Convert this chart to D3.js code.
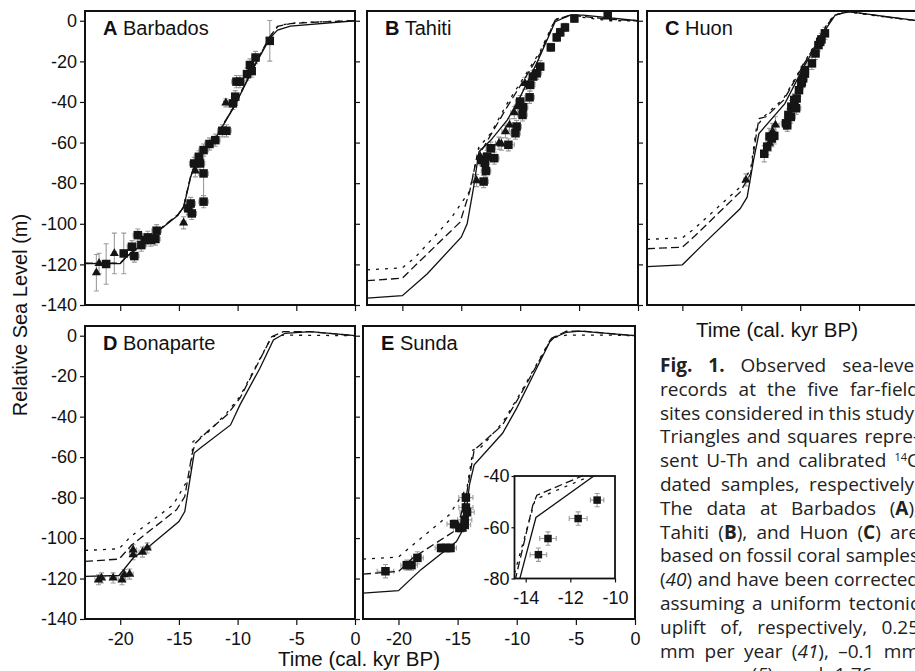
<!DOCTYPE html>
<html>
<head>
<meta charset="utf-8">
<script src="https://cdn.jsdelivr.net/npm/d3@7"></script>
<style>
  body { margin: 0; background: #fff; overflow: hidden; }
  svg { display: block; }
</style>
</head>
<body>
<svg id="chart" width="915" height="671"></svg>
<script>
// ---- data (time in kyr BP, level in m) ----
const timeTicks = [-20, -15, -10, -5, 0];
const levelTicks = [0, -20, -40, -60, -80, -100, -120, -140];
const insetTimeTicks = [-14, -12, -10];
const insetLevelTicks = [-40, -60, -80];

// model curves: [time, level]
const aSolid = [[-23,-119.6],[-20,-119.6],[-19.5,-116.5],[-16.7,-103.3],[-15.1,-95.9],[-14.6,-91.8],[-14.0,-77],[-13.4,-67.1],[-12.0,-58.9],[-10.3,-42.4],[-8.6,-22.7],[-7.26,-8.7],[-6.6,-4.6],[-5.5,-2.6],[0,0]];
const aDashed = [[-23,-119.4],[-20,-119.4],[-19.5,-116.3],[-16.7,-103],[-15.1,-95.6],[-14.6,-91.5],[-14.0,-76.6],[-13.4,-66.8],[-12.0,-58.6],[-10.3,-42],[-8.6,-22.3],[-7.3,-8.2],[-6.6,-2.8],[-5.5,-1.4],[-3,-0.6],[0,0]];
const aDotted = [[-23,-119.5],[-20,-119.5],[-19.5,-116.4],[-16.7,-103.1],[-15.1,-95.7],[-14.6,-91.6],[-14.0,-76.8],[-13.4,-66.9],[-12.0,-58.7],[-10.3,-42.2],[-8.6,-22.5],[-7.3,-8.4],[-6.5,-2.2],[-5,-1],[-2,-0.3],[0,0]];

const bSolid = [[-23,-136.6],[-20,-135.4],[-17.9,-124.7],[-15.0,-106.6],[-14.5,-100],[-13.95,-81.9],[-13.5,-64.6],[-12.5,-58.9],[-11.1,-49],[-10,-37.5],[-8.6,-21],[-7.03,-0.5],[-5.76,2.8],[-4.66,2.8],[0,0]];
const bDashed = [[-23,-128],[-20,-126.8],[-18.75,-119.7],[-15.1,-99.2],[-14.3,-84.4],[-13.67,-67.1],[-13.1,-62.2],[-11.1,-42.4],[-9.7,-29.3],[-8.3,-16],[-7.03,0.3],[-5.76,2.8],[-2.4,0.7],[0,0]];
const bDotted = [[-23,-122.7],[-20,-121.7],[-18.9,-116.5],[-15.9,-97.5],[-14.3,-84],[-13.5,-62.2],[-12.5,-55.5],[-11.1,-40.7],[-9.7,-28],[-8.3,-15],[-7.03,0.7],[-5.76,2.5],[-2.4,0],[0,0]];

const cSolid = [[-23,-121.1],[-20,-120.2],[-18.2,-109.9],[-15.1,-92.6],[-14.5,-86.9],[-13.96,-68.8],[-13.5,-55.6],[-11.3,-40.8],[-9.7,-22.7],[-7.7,-3],[-7.03,2.8],[-5.9,4.5],[0,0]];
const cDashed = [[-23,-112.3],[-20,-111.5],[-18.9,-105.8],[-15.1,-84.4],[-14.2,-75.3],[-13.8,-58.9],[-13.5,-48.2],[-12.9,-47.3],[-11.4,-39.1],[-9.7,-21.5],[-7.7,-2],[-7.1,2.8],[-5.9,4.5],[-2.4,1.7],[0,0]];
const cDotted = [[-23,-107.7],[-20,-106.9],[-19,-102.5],[-15.1,-81.9],[-14.2,-73],[-13.7,-52.3],[-13.1,-47.3],[-11.4,-38.3],[-9.7,-21],[-7.7,-1.5],[-7.1,2.8],[-5.9,4.3],[-2.4,1.5],[0,0]];

const dSolid = [[-23,-118.9],[-20.1,-118.5],[-18.9,-109.9],[-17.7,-104.9],[-15,-91.8],[-14.5,-86.9],[-13.7,-58],[-13.2,-55.6],[-10.6,-44.1],[-9.8,-34.2],[-8.1,-16.1],[-6.95,-2.1],[-5.96,1.2],[-3.8,2],[0,0]];
const dDashed = [[-23,-111.5],[-20.1,-110.4],[-19,-103.3],[-15.2,-86],[-14.5,-79.5],[-13.9,-58.9],[-13.6,-53.1],[-12.5,-47],[-10.9,-39.1],[-9.8,-30.9],[-7.1,-0.5],[-6.1,2],[-3.8,2],[0,0]];
const dDotted = [[-23,-106.1],[-20.1,-105.3],[-19.1,-99.2],[-15.5,-83.6],[-14,-68.8],[-13.8,-52.3],[-12.6,-48.2],[-10.9,-38],[-9.8,-30],[-7.1,-0.5],[-6.1,0.3],[0,0]];

const eSolid = [[-23,-127.2],[-20,-126],[-18.1,-115.6],[-15.1,-101.7],[-14.7,-97.5],[-14.3,-88.5],[-14.0,-73.7],[-13.6,-63.8],[-11.2,-48.2],[-10,-35.8],[-7.2,-3],[-6.86,-1],[-5.8,1.7],[-4.66,2.3],[0,0]];
const eDashed = [[-23,-117.8],[-20,-116.5],[-18.8,-109.9],[-15.1,-95.9],[-14.3,-80.3],[-13.6,-56.5],[-13.1,-54],[-11.2,-44.1],[-9.7,-29.3],[-7.06,-1.3],[-5.8,2.2],[-4.5,2.3],[0,0]];
const eDotted = [[-23,-110.4],[-20,-109.4],[-19.1,-104.9],[-15.7,-88.5],[-14.2,-75],[-13.7,-56.5],[-13,-55],[-11.2,-43],[-9.7,-28.5],[-7.06,-1],[-5.8,0.3],[-2,0.3],[0,0]];

// observations: [time, level, time error, level error]
const aTriangles = [[-22.03,-124.1,0.15,9],[-21.8,-119.5,0.15,5],[-20.5,-114.6,0.15,10],[-14.6,-99.5,0.2,3],[-13.6,-73.9,0.2,3],[-11.0,-40.4,0.2,2]];
const aSquares = [[-21.2,-119.8,0.3,10],[-19.7,-114.6,0.3,10],[-19.0,-111.3,0.4,3],[-18.8,-115.9,0.4,3],[-18.5,-105.6,0.4,3],[-18.2,-110.5,0.4,3],[-17.9,-108,0.4,3],[-17.65,-106.7,0.4,3],[-17.4,-108,0.4,3],[-17.0,-107.5,0.4,3],[-16.9,-103.4,0.4,3],[-14.2,-92.4,0.4,3],[-14.0,-90,0.4,3],[-13.9,-94.9,0.4,3],[-12.9,-89.1,0.4,3],[-13.7,-70.3,0.4,3],[-13.3,-67,0.4,3],[-13.2,-70.3,0.4,3],[-12.9,-63.7,0.4,3],[-12.9,-75.2,0.4,11],[-12.4,-60.7,0.4,3],[-11.9,-58.8,0.4,3],[-11.3,-54.2,0.4,3],[-10.95,-54.2,0.4,3],[-10.4,-40.7,0.4,3],[-10.2,-37.4,0.3,3],[-10.1,-30,0.4,3],[-9.8,-30,0.4,3],[-9.2,-26.3,0.3,3],[-8.95,-21.8,0.3,3],[-8.8,-24.8,0.3,3],[-8.47,-18.1,0.3,3],[-7.26,-9.9,0.1,10]];

const bTriangles = [[-13.7,-78.7,0.3,3],[-13.4,-66.9,0.3,4],[-11.8,-60.3,0.3,3],[-11.6,-60.7,0.3,3],[-11.25,-54.6,0.3,3],[-10.9,-51.3,0.3,3],[-10.5,-45.2,0.3,3],[-10.2,-42.3,0.3,3],[-9.6,-30.8,0.3,3]];
const bSquares = [[-13.1,-79.2,0.4,3],[-13.25,-68.5,0.4,3],[-13.0,-70,0.4,3],[-12.9,-74,0.4,3],[-12.8,-66.9,0.4,3],[-12.5,-62.8,0.4,3],[-12.2,-67.7,0.4,3],[-11.0,-61.1,0.5,3],[-10.4,-55.4,0.4,3],[-10.3,-52.1,0.4,3],[-9.8,-46.4,0.4,3],[-9.75,-42.6,0.4,3],[-10.0,-39.8,0.4,3],[-9.2,-37.7,0.4,3],[-9.15,-31.6,0.4,3],[-8.9,-27.5,0.4,3],[-8.6,-25.9,0.4,3],[-8.3,-22.6,0.3,3],[-7.4,-13.1,0.2,2],[-6.9,-8.2,0.2,2],[-6.6,-5.7,0.2,2],[-6.2,-3.3,0.2,2],[-5.4,1.1,0.2,2],[-2.57,2.8,0.2,2]];

const cTriangles = [[-14.6,-78.4,0.2,3],[-12.6,-60.3,0.3,4],[-12.35,-54.6,0.3,4],[-12.1,-51.3,0.3,4]];
const cSquares = [[-13.05,-65.5,0.3,4],[-12.8,-62,0.3,4],[-12.6,-57,0.3,4],[-12.4,-58,0.3,4],[-12.2,-56.7,0.3,4],[-11.2,-50.5,0.4,3],[-11.1,-51.5,0.3,3],[-10.8,-47.4,0.4,3],[-11.0,-46.4,0.3,3],[-10.75,-42.3,0.3,3],[-10.5,-42.4,0.3,3],[-10.5,-39,0.3,3],[-10.35,-43.1,0.4,3],[-10.3,-38.3,0.3,3],[-10.1,-34.2,0.3,3],[-9.9,-30.8,0.3,3],[-9.86,-30.1,0.3,3],[-9.75,-28.4,0.3,3],[-9.6,-26,0.3,3],[-9.6,-24.3,0.3,3],[-9.0,-21,0.3,3],[-8.7,-16.1,0.3,3],[-8.45,-12,0.3,3],[-8.3,-10.4,0.3,3],[-8.2,-9.2,0.3,3],[-7.9,-6.2,0.3,3]];

const dTriangles = [[-21.85,-120.6,0.3,2.5],[-21.6,-119.7,0.3,2.5],[-20.6,-119.7,0.3,2.5],[-19.85,-120.6,0.3,2.5],[-19.65,-118.1,0.3,2.5],[-19.2,-117.8,0.3,2.5],[-18.9,-105.8,0.3,2.5],[-18.9,-108.2,0.3,2.5],[-18.1,-106.9,0.3,2.5],[-17.7,-104.9,0.3,2.5]];
const dSquares = [];

const eTriangles = [];
const eSquares = [[-21.1,-116.4,0.7,3.3],[-19.3,-113.4,0.5,2.5],[-18.9,-113.4,0.5,2.5],[-18.4,-109.8,0.5,3],[-16.4,-104.9,0.5,2],[-16.0,-104.9,0.5,2],[-15.6,-104.9,0.5,2],[-15.3,-93.1,0.6,2],[-14.85,-95,0.5,2],[-14.6,-94.8,0.5,2],[-14.4,-93.4,0.5,3],[-14.4,-91,0.6,2],[-14.3,-80,0.6,2],[-14.3,-84.9,0.6,2],[-14.2,-87.2,0.6,2]];

// Sunda inset
const insetSolid = [[-14.5,-87.9],[-13.54,-56.2],[-10.5,-37.2]];
const insetDashed = [[-14.6,-85.5],[-13.68,-51.4],[-13.5,-47.5],[-11.55,-40.3],[-11,-38.3]];
const insetDotted = [[-14.5,-78],[-13.6,-50],[-13.4,-48.5],[-11.1,-40],[-10.8,-39]];
const insetSquares = [[-13.43,-70.7,0.37,2.6],[-13.0,-64.4,0.37,2.6],[-11.65,-56.6,0.4,2.6],[-10.8,-49.4,0.3,2.6]];

const captionLines = [
  "#Fig.# #1.# Observed sea-level",
  "records at the five far-field",
  "sites considered in this study.",
  "Triangles and squares repre-",
  "sent U-Th and calibrated ^14^C",
  "dated samples, respectively.",
  "The data at Barbados (#A#),",
  "Tahiti (#B#), and Huon (#C#) are",
  "based on fossil coral samples",
  "(*40*) and have been corrected",
  "assuming a uniform tectonic",
  "uplift of, respectively, 0.25",
  "mm per year (*41*), \u20130.1 mm",
  "per year (*5*), and 1.76 mm"
];

// ---- layout ----
const timeDomain = [-23, 0];
const levelDomain = [-140, 4.8];
const panels = [
  { id: "A", name: "Barbados", box: [85, 355, 11, 305], solid: aSolid, dashed: aDashed, dotted: aDotted, tri: aTriangles, sq: aSquares },
  { id: "B", name: "Tahiti", box: [367, 638, 11, 305], solid: bSolid, dashed: bDashed, dotted: bDotted, tri: bTriangles, sq: bSquares },
  { id: "C", name: "Huon", box: [647, 918, 11, 305], solid: cSolid, dashed: cDashed, dotted: cDotted, tri: cTriangles, sq: cSquares },
  { id: "D", name: "Bonaparte", box: [85, 355, 326, 619], solid: dSolid, dashed: dDashed, dotted: dDotted, tri: dTriangles, sq: dSquares },
  { id: "E", name: "Sunda", box: [363, 635, 326, 619], solid: eSolid, dashed: eDashed, dotted: eDotted, tri: eTriangles, sq: eSquares }
];

const chartFont = "'Liberation Sans', Arial, Helvetica, sans-serif";
const svg = d3.select("#chart");
const defs = svg.append("defs");

function errorBars(g, pts, x, y) {
  const e = g.append("g").attr("stroke", "#9c9c9c").attr("stroke-width", 1.1).attr("fill", "none");
  const cap = 2.5;
  pts.forEach(([t, v, dt, dv]) => {
    const cx = x(t), cy = y(v);
    const xl = x(t - dt), xr = x(t + dt), yt = y(v + dv), yb = y(v - dv);
    e.append("path").attr("d",
      `M${xl},${cy}H${xr}M${xl},${cy - cap}V${cy + cap}M${xr},${cy - cap}V${cy + cap}` +
      `M${cx},${yt}V${yb}M${cx - cap},${yt}H${cx + cap}M${cx - cap},${yb}H${cx + cap}`);
  });
}

function markers(g, tri, sq, x, y, side) {
  g.append("g").selectAll("rect")
    .data(sq)
    .join("rect")
    .attr("x", d => x(d[0]) - side / 2)
    .attr("y", d => y(d[1]) - side / 2)
    .attr("width", side)
    .attr("height", side)
    .attr("fill", "#151515");
  g.append("g").selectAll("path")
    .data(tri)
    .join("path")
    .attr("transform", d => `translate(${x(d[0])},${y(d[1])})`)
    .attr("d", d3.symbol(d3.symbolTriangle, 36))
    .attr("fill", "#151515");
}

function curves(g, list, x, y, clipId) {
  const line = d3.line().x(d => x(d[0])).y(d => y(d[1]));
  const cg = g.append("g").attr("clip-path", `url(#${clipId})`).attr("fill", "none").attr("stroke", "#111");
  list.forEach(([data, dash]) => {
    cg.append("path")
      .datum(data)
      .attr("d", line)
      .attr("stroke-width", 1.3)
      .attr("stroke-dasharray", dash);
  });
}

function styleAxis(a) {
  a.select(".domain").remove();
  a.attr("font-family", chartFont).attr("font-size", 18);
  a.selectAll(".tick line").attr("stroke", "#111").attr("stroke-width", 1.2);
  a.selectAll(".tick text").attr("fill", "#111");
}

// plain hyphen for negatives, as in the figure
const fmt = d => String(d);

panels.forEach(p => {
  const [l, r, t, b] = p.box;
  const lowerRow = t > 100;
  const x = d3.scaleLinear().domain(timeDomain).range([l, r]);
  const y = d3.scaleLinear().domain(levelDomain).range([b, t]);
  const g = svg.append("g");

  defs.append("clipPath").attr("id", "clip" + p.id)
    .append("rect").attr("x", l).attr("y", t).attr("width", r - l).attr("height", b - t);

  // bottom ticks (labels only on lower row)
  const bx = g.append("g")
    .attr("transform", `translate(0,${b})`)
    .call(d3.axisBottom(x).tickValues(timeTicks).tickSize(6).tickPadding(7)
      .tickFormat(lowerRow ? fmt : ""));
  styleAxis(bx);

  if (p.id === "A" || p.id === "D") {
    const ly = g.append("g")
      .attr("transform", `translate(${l},0)`)
      .call(d3.axisLeft(y).tickValues(levelTicks).tickSize(5).tickPadding(3).tickFormat(fmt));
    styleAxis(ly);
  }
  if (p.id !== "E") {
    const ry = g.append("g")
      .attr("transform", `translate(${r},0)`)
      .call(d3.axisRight(y).tickValues(levelTicks).tickSize(5).tickFormat(""));
    styleAxis(ry);
  }

  errorBars(g, p.tri.concat(p.sq), x, y);
  curves(g, [[p.solid, null], [p.dashed, "8,4"], [p.dotted, "3,6"]], x, y, "clip" + p.id);
  markers(g, p.tri, p.sq, x, y, 8.5);

  g.append("rect")
    .attr("x", l).attr("y", t)
    .attr("width", r - l).attr("height", b - t)
    .attr("fill", "none").attr("stroke", "#111").attr("stroke-width", 2);

  const lab = g.append("text")
    .attr("x", l + 18).attr("y", t + 24)
    .attr("font-family", chartFont).attr("font-size", 20).attr("fill", "#111");
  lab.append("tspan").attr("font-weight", "bold").text(p.id);
  lab.append("tspan").text(" " + p.name);

  // inset on Sunda
  if (p.id === "E") {
    const ix = d3.scaleLinear().domain([-14.5, -10]).range([514.5, 615]);
    const iy = d3.scaleLinear().domain([-80, -40]).range([578.5, 476]);
    const ig = g.append("g");
    defs.append("clipPath").attr("id", "clipInset")
      .append("rect").attr("x", 514.5).attr("y", 476).attr("width", 100.5).attr("height", 102.5);
    ig.append("rect").attr("x", 514.5).attr("y", 476).attr("width", 100.5).attr("height", 102.5).attr("fill", "#fff");
    const iax = ig.append("g").attr("transform", "translate(0,578.5)")
      .call(d3.axisBottom(ix).tickValues(insetTimeTicks).tickSize(4).tickPadding(9).tickFormat(fmt));
    styleAxis(iax);
    const iay = ig.append("g").attr("transform", "translate(514.5,0)")
      .call(d3.axisLeft(iy).tickValues(insetLevelTicks).tickSize(3).tickPadding(2).tickFormat(fmt));
    styleAxis(iay);
    errorBars(ig, insetSquares, ix, iy);
    curves(ig, [[insetSolid, null], [insetDashed, "8,4"], [insetDotted, "3,6"]], ix, iy, "clipInset");
    markers(ig, [], insetSquares, ix, iy, 7.5);
    ig.append("rect").attr("x", 514.5).attr("y", 476).attr("width", 100.5).attr("height", 102.5)
      .attr("fill", "none").attr("stroke", "#111").attr("stroke-width", 1.8);
  }
});

// axis titles
svg.append("text")
  .attr("transform", "translate(27,315) rotate(-90)")
  .attr("text-anchor", "middle")
  .attr("font-family", chartFont).attr("font-size", 20).attr("fill", "#111")
  .text("Relative Sea Level (m)");

svg.append("text")
  .attr("x", 777).attr("y", 337)
  .attr("text-anchor", "middle")
  .attr("font-family", chartFont).attr("font-size", 20.5).attr("fill", "#111")
  .text("Time (cal. kyr BP)");

svg.append("text")
  .attr("x", 359).attr("y", 666)
  .attr("text-anchor", "middle")
  .attr("font-family", chartFont).attr("font-size", 20.5).attr("fill", "#111")
  .text("Time (cal. kyr BP)");

// caption, justified to a right edge that runs past the page
const cap = svg.append("g")
  .attr("font-family", "'Open Sans', 'Noto Sans', sans-serif")
  .attr("font-size", 19)
  .attr("fill", "#222");
const capLeft = 660, capRight = 919;

function parseWord(w) {
  const parts = w.match(/#[^#]+#|\*[^*]+\*|\^[^^]+\^|[^#*^]+/g);
  return parts.map(s => {
    if (s[0] === "#") return { text: s.slice(1, -1), style: "b" };
    if (s[0] === "*") return { text: s.slice(1, -1), style: "i" };
    if (s[0] === "^") return { text: s.slice(1, -1), style: "sup" };
    return { text: s, style: "" };
  });
}

captionLines.forEach((ln, i) => {
  const yy = 372 + i * 23.8;
  const nodes = ln.split(" ").map(w => {
    const txt = cap.append("text").attr("y", yy);
    let raised = false;
    parseWord(w).forEach(s => {
      const ts = txt.append("tspan").text(s.text);
      if (s.style === "b") ts.attr("font-weight", "bold");
      if (s.style === "i") ts.attr("font-style", "italic");
      if (s.style === "sup") { ts.attr("font-size", 11).attr("dy", -6); raised = true; }
      else if (raised) { ts.attr("dy", 6); raised = false; }
    });
    return txt;
  });
  const widths = nodes.map(n => n.node().getComputedTextLength());
  const gap = (capRight - capLeft - d3.sum(widths)) / (nodes.length - 1);
  let xx = capLeft;
  nodes.forEach((n, j) => { n.attr("x", xx); xx += widths[j] + gap; });
});
</script>
</body>
</html>
